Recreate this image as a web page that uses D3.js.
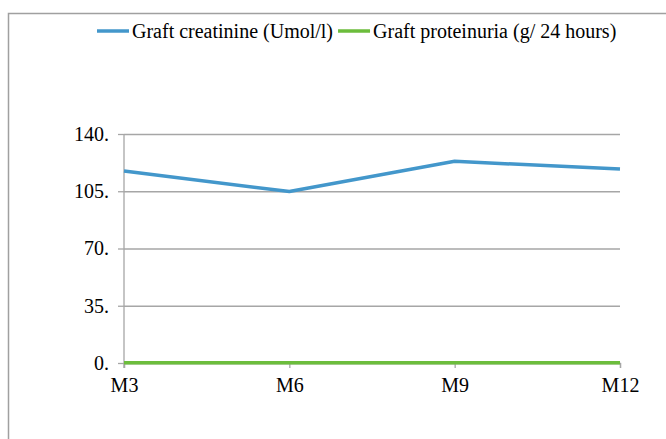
<!DOCTYPE html>
<html>
<head>
<meta charset="utf-8">
<script src="https://cdn.jsdelivr.net/npm/d3@7"></script>
<style>
  body { margin: 0; background: #fff; }
</style>
</head>
<body>
<svg id="chart"></svg>
<script>
const months = ["M3", "M6", "M9", "M12"];
const creatinine = [117.4, 104.8, 123.3, 118.6];
const proteinuria = [0.1, 0.1, 0.1, 0.1];
const yTicks = [0, 35, 70, 105, 140];
const seriesNames = ["Graft creatinine (Umol/l)", "Graft proteinuria (g/ 24 hours)"];
const seriesColors = ["#4397cb", "#6cbd3c"];

const width = 666, height = 439;
const margin = { left: 124, right: 46, top: 134, bottom: 76 };
const serif = "'Liberation Serif', 'Times New Roman', serif";
const fontSize = 20;

const svg = d3.select("#chart").attr("width", width).attr("height", height);

// outer frame (runs off the right and bottom edges)
svg.append("rect")
  .attr("x", 8.5).attr("y", 13.5)
  .attr("width", width).attr("height", height)
  .attr("fill", "none").attr("stroke", "#a0a0a0").attr("stroke-width", 1.5);

const x = d3.scalePoint().domain(months).range([margin.left, width - margin.right]);
const y = d3.scaleLinear().domain([0, 140]).range([height - margin.bottom, margin.top]);

// gridlines + y ticks
const yAxis = svg.append("g")
  .attr("transform", `translate(${margin.left},0)`)
  .call(d3.axisLeft(y).tickValues(yTicks).tickSize(6).tickPadding(9).tickFormat(d => d + "."));
yAxis.attr("font-family", serif).attr("font-size", fontSize);
yAxis.select(".domain").remove();
yAxis.selectAll(".tick line").attr("stroke", "#a6a6a6").attr("stroke-width", 1.3);
yAxis.selectAll(".tick").append("line")
  .attr("x1", 0).attr("x2", width - margin.right - margin.left)
  .attr("stroke", "#a6a6a6").attr("stroke-width", 1.3);
yAxis.selectAll(".tick text").attr("fill", "#000");

svg.append("line")
  .attr("x1", margin.left).attr("x2", margin.left)
  .attr("y1", margin.top).attr("y2", height - margin.bottom + 5)
  .attr("stroke", "#a6a6a6").attr("stroke-width", 1.3);

const xAxis = svg.append("g")
  .attr("transform", `translate(0,${height - margin.bottom})`)
  .call(d3.axisBottom(x).tickSize(5).tickPadding(10));
xAxis.attr("font-family", serif).attr("font-size", fontSize);
xAxis.select(".domain").attr("stroke", "#a6a6a6").attr("stroke-width", 1.3);
xAxis.selectAll(".tick line").attr("stroke", "#a6a6a6").attr("stroke-width", 1.3);
xAxis.selectAll(".tick text").attr("fill", "#000");

const line = d3.line().x((d, i) => x(months[i])).y(d => y(d));

[creatinine, proteinuria].forEach((vals, k) => {
  svg.append("path")
    .datum(vals)
    .attr("d", line)
    .attr("fill", "none")
    .attr("stroke", seriesColors[k])
    .attr("stroke-width", 3.5)
    .attr("stroke-linejoin", "round");
});

// legend, items laid out one after another
let lx = 97;
seriesNames.forEach((name, k) => {
  const g = svg.append("g").attr("transform", `translate(${lx},31)`);
  g.append("line").attr("x1", 0).attr("x2", 32)
    .attr("stroke", seriesColors[k]).attr("stroke-width", 3.5);
  const t = g.append("text").attr("x", 35).attr("y", 7)
    .attr("font-family", serif).attr("font-size", fontSize)
    .attr("fill", "#000").text(name);
  lx += 35 + t.node().getComputedTextLength() + 5;
});
</script>
</body>
</html>
